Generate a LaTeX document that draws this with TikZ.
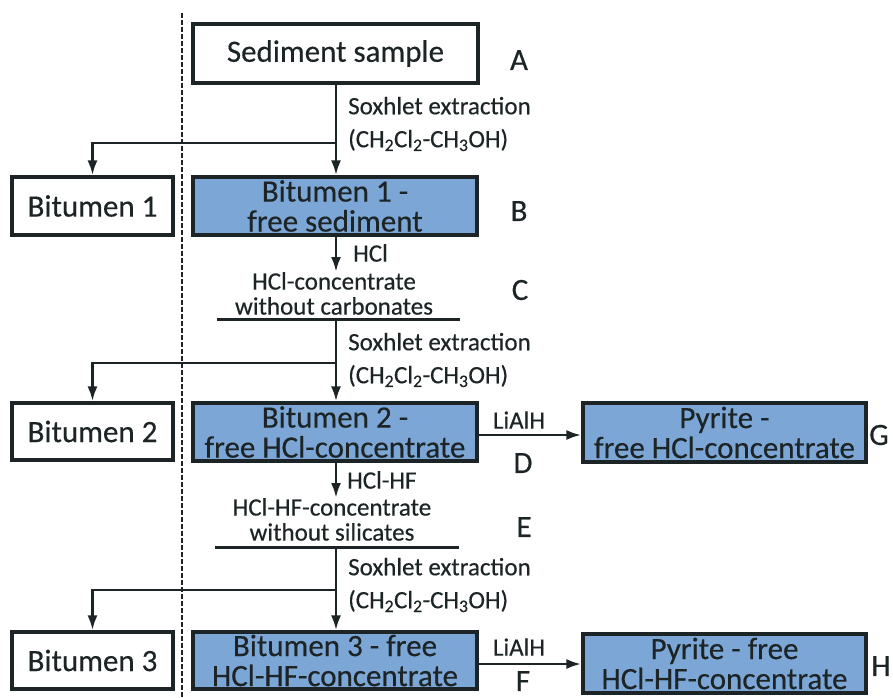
\documentclass[tikz,border=0pt]{standalone}
\usepackage{fontspec}
\setmainfont{Carlito}[FakeBold=0.35]
\usetikzlibrary{arrows.meta,calc}
\definecolor{boxblue}{RGB}{124,166,214}
\definecolor{ink}{RGB}{28,36,38}
\tikzset{
  big/.style={font=\fontsize{31}{30}\selectfont},
  small/.style={font=\fontsize{25}{25}\selectfont},
  plainbox/.style={draw=ink,line width=3.2pt,fill=white,inner sep=0pt,align=center,big,text=ink},
  bluebox/.style={plainbox,fill=boxblue},
  lbl/.style={inner sep=0pt,text=ink,small},
  letter/.style={inner sep=0pt,text=ink,big},
  conn/.style={draw=ink,line width=2.8pt,-{Latex[length=15pt,width=10pt]}},
  bar/.style={draw=ink,line width=3pt},
}
\begin{document}
\begin{tikzpicture}[x=1pt,y=-1pt]
\useasboundingbox (0,0) rectangle (893,697);
\fill[white] (0,0) rectangle (893,697);
% dashed divider
\coordinate (dtop) at (182,13);
\coordinate (dbot) at (182,697);
\draw[ink,line width=2.4pt,dash pattern=on 4.5pt off 2.5pt] (dtop) -- (dbot);

% boxes
\node[plainbox,minimum width=285pt,minimum height=59pt] (sed) at (335.5,53.5) {Sediment sample};
\node[bluebox,minimum width=284pt,minimum height=58pt] (bf1) at (335,206) {Bitumen 1 -\\free sediment};
\node[plainbox,minimum width=161pt,minimum height=58pt] (bit1) at (92.5,206) {Bitumen 1};

\node[bluebox,minimum width=284pt,minimum height=58pt] (bf2) at (335,432) {Bitumen 2 -\\free HCl-concentrate};
\node[plainbox,minimum width=161pt,minimum height=57pt] (bit2) at (92.5,431.5) {Bitumen 2};
\node[bluebox,minimum width=283pt,minimum height=59pt] (pyr1) at (724.5,432.5) {Pyrite -\\free HCl-concentrate};

\node[bluebox,minimum width=284pt,minimum height=57pt] (bf3) at (335,660.5) {Bitumen 3 - free\\HCl-HF-concentrate};
\node[plainbox,minimum width=161pt,minimum height=57pt] (bit3) at (92.5,660.5) {Bitumen 3};
\node[bluebox,minimum width=283pt,minimum height=59pt] (pyr2) at (724.5,663.5) {Pyrite - free\\HCl-HF-concentrate};

% intermediate texts
\node[lbl,align=center,anchor=north] (hclc) at (334,272) {HCl-concentrate\\without carbonates};
\node[lbl,align=center,anchor=north] (hclhf) at (332,498) {HCl-HF-concentrate\\without silicates};

% bars
\coordinate (cl) at (217,319);
\coordinate (cr) at (460,319);
\coordinate (cm) at (336,319);
\draw[bar] (cl) -- (cr);
\coordinate (el) at (215,547);
\coordinate (er) at (459,547);
\coordinate (em) at (336,547);
\draw[bar] (el) -- (er);

% junctions
\coordinate (j1) at (336,143);
\coordinate (j2) at (336,363);
\coordinate (j3) at (336,590);

% connectors
\draw[conn] (sed.south -| j1) -- (bf1.north -| j1);
\draw[conn] (j1) -| (bit1.north);
\draw[conn] (bf1.south -| j1) -- (hclc.north -| j1);
\draw[conn] (cm) -- (bf2.north -| cm);
\draw[conn] (j2) -| (bit2.north);
\draw[conn] (bf2.south -| j2) -- (hclhf.north -| j2);
\draw[conn] (em) -- (bf3.north -| em);
\draw[conn] (j3) -| (bit3.north);
\draw[conn] (bf2.east |- 0,435) -- (pyr1.west |- 0,435);
\draw[conn] (bf3.east |- 0,664) -- (pyr2.west |- 0,664);

% labels
\node[lbl,align=left,anchor=west,font=\fontsize{25}{33}\selectfont] (sox1) at (348,124) {Soxhlet extraction\\(CH\textsubscript{2}Cl\textsubscript{2}-CH\textsubscript{3}OH)};
\node[lbl,align=left,anchor=west,font=\fontsize{25}{33}\selectfont] (sox2) at (348,360) {Soxhlet extraction\\(CH\textsubscript{2}Cl\textsubscript{2}-CH\textsubscript{3}OH)};
\node[lbl,align=left,anchor=west,font=\fontsize{25}{33}\selectfont] (sox3) at (348,585) {Soxhlet extraction\\(CH\textsubscript{2}Cl\textsubscript{2}-CH\textsubscript{3}OH)};
\node[lbl,anchor=west] (hcl) at (353,253) {HCl};
\node[lbl,anchor=west] (hclhflbl) at (347,480) {HCl-HF};
\node[lbl] (li1) at (519,420) {LiAlH};
\node[lbl] (li2) at (519,647) {LiAlH};

% letters
\node[letter] (la) at (519,60) {A};
\node[letter] (lb) at (519,211) {B};
\node[letter] (lc) at (520,290) {C};
\node[letter] (ld) at (523,463) {D};
\node[letter] (le) at (524,527) {E};
\node[letter] (lf) at (523,681) {F};
\node[letter] (lg) at (879,435) {G};
\node[letter] (lh) at (881,666) {H};
\end{tikzpicture}
\end{document}
